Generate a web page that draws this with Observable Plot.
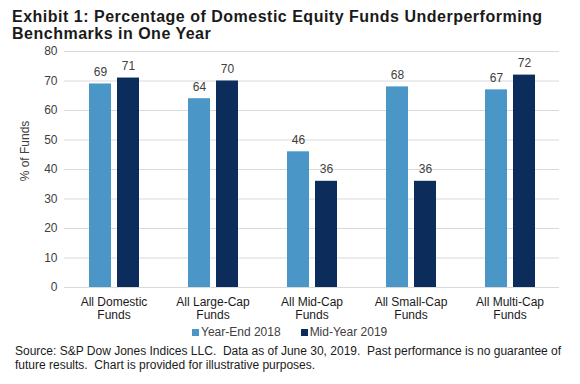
<!DOCTYPE html>
<html><head><meta charset="utf-8">
<script src="https://cdn.jsdelivr.net/npm/d3@7"></script>
<script src="https://cdn.jsdelivr.net/npm/@observablehq/plot@0.6"></script>
<style>
body{margin:0;background:#fff;font-family:"Liberation Sans",Arial,sans-serif;}
#wrap{position:relative;width:580px;height:384px;overflow:hidden;}
#title{position:absolute;left:12px;top:8px;font-weight:bold;font-size:16px;letter-spacing:0.5px;line-height:17px;color:#1a1a1a;white-space:nowrap;}
#plot{position:absolute;left:0;top:40px;}
#ylabel{position:absolute;left:25px;top:151px;transform:translate(-50%,-50%) rotate(-90deg);font-size:12px;color:#404040;white-space:nowrap;}
#legend{position:absolute;top:325px;left:192px;font-size:12px;color:#404040;display:flex;gap:20px;}
#legend span.sw{display:inline-block;width:7px;height:7px;margin-right:2px;vertical-align:0px;}
#source{position:absolute;left:15px;top:345px;font-size:12px;line-height:13.5px;color:#1a1a1a;white-space:pre;}
</style></head>
<body><div id="wrap">
<div id="title">Exhibit 1: Percentage of Domestic Equity Funds Underperforming<br>Benchmarks in One Year</div>
<div id="plot"></div>
<div id="ylabel">% of Funds</div>
<div id="legend"></div>
<div id="source">Source: S&amp;P Dow Jones Indices LLC.  Data as of June 30, 2019.  Past performance is no guarantee of
future results.  Chart is provided for illustrative purposes.</div>
</div>
<script>
const categories = ["All Domestic\nFunds","All Large-Cap\nFunds","All Mid-Cap\nFunds","All Small-Cap\nFunds","All Multi-Cap\nFunds"];
const series = ["Year-End 2018","Mid-Year 2019"];
const yearEnd2018 = [69,64,46,68,67];
const midYear2019 = [71,70,36,36,72];
const colors = ["#4a97c7","#0c2c5c"];
const yTicks = [0,10,20,30,40,50,60,70,80];

const data = [];
categories.forEach((c,i)=>{
  data.push({cat:c, series:series[0], value:yearEnd2018[i]});
  data.push({cat:c, series:series[1], value:midYear2019[i]});
});

const chart = Plot.plot({
  width:580, height:290,
  marginLeft:63, marginRight:20, marginTop:11, marginBottom:43,
  style:{fontFamily:'"Liberation Sans",Arial,sans-serif', fontSize:"12px", color:"#404040", background:"transparent"},
  fx:{domain:categories, paddingInner:0, paddingOuter:0, label:null},
  x:{domain:series, paddingInner:0.22, paddingOuter:0.85, axis:null},
  y:{domain:[0,80], ticks:yTicks, label:null},
  color:{domain:series, range:colors},
  marks:[
    Plot.ruleY(yTicks,{stroke:"#d9d9d9", strokeWidth:1}),
    Plot.axisY({ticks:yTicks, tickSize:0, tickPadding:7, label:null, fontSize:12, fill:"#404040"}),
    Plot.axisFx({anchor:"bottom", tickSize:0, tickPadding:10, label:null, fontSize:12, lineHeight:1.05, fill:"#1a1a1a"}),
    Plot.barY(data,{fx:"cat", x:"series", y:"value", fill:"series"}),
    Plot.text(data,{fx:"cat", x:"series", y:"value", text:d=>String(d.value), dy:-12, fill:"#404040", fontSize:12})
  ]
});
document.getElementById("plot").appendChild(chart);

const leg = document.getElementById("legend");
series.forEach((s,i)=>{
  const item = document.createElement("div");
  item.innerHTML = `<span class="sw" style="background:${colors[i]}"></span>${s}`;
  leg.appendChild(item);
});
</script>
</body></html>
